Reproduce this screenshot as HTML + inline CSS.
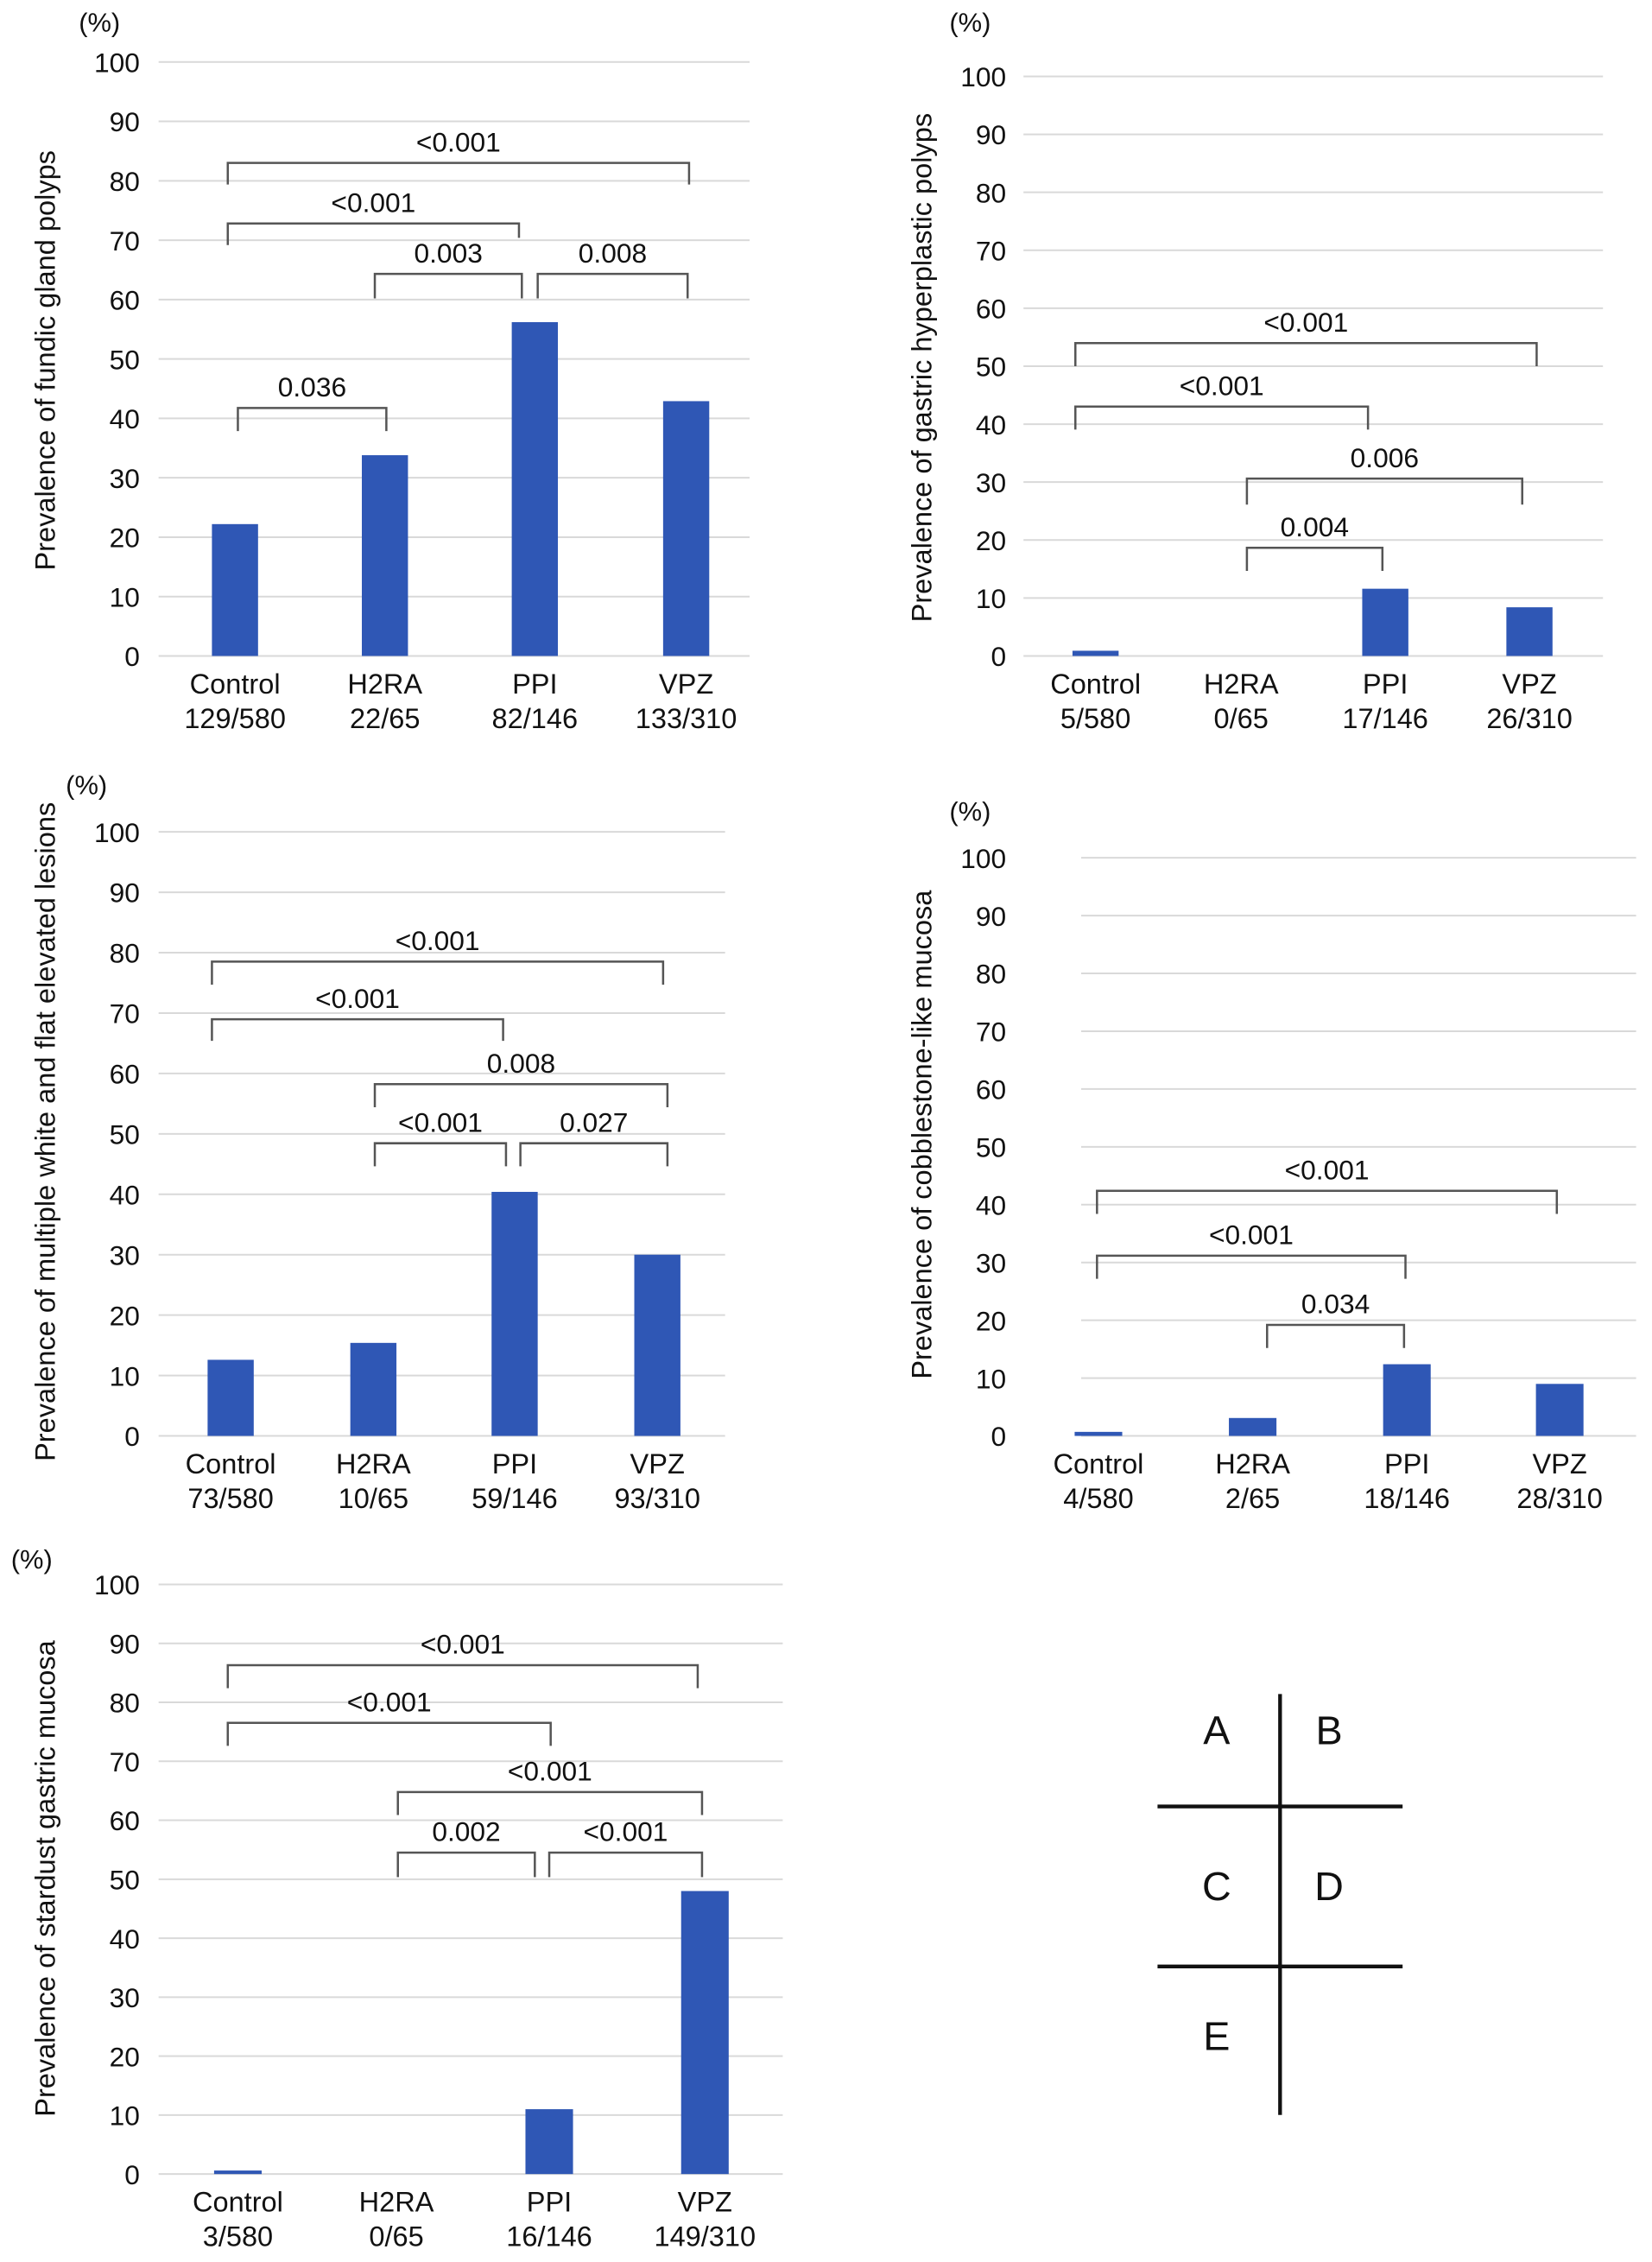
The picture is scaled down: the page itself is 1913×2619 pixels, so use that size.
<!DOCTYPE html>
<html><head><meta charset="utf-8">
<style>
html,body{margin:0;padding:0;background:#fff;}
svg{display:block;font-family:"Liberation Sans",Arial,sans-serif;}
</style></head>
<body>
<svg id="fig" width="1913" height="2619" viewBox="0 0 1146 1569" xmlns="http://www.w3.org/2000/svg">
<g id="legend-key" stroke="#111" stroke-width="2.6">
<line x1="888" y1="1175" x2="888" y2="1467"/>
<line x1="803" y1="1253" x2="973" y2="1253"/>
<line x1="803" y1="1364" x2="973" y2="1364"/>
</g>
<g font-size="28" fill="#111" text-anchor="middle">
<text x="844" y="1210">A</text>
<text x="922" y="1210">B</text>
<text x="844" y="1318">C</text>
<text x="922" y="1318">D</text>
<text x="844" y="1422">E</text>
</g>
</svg>
<script>
var categories = ["Control","H2RA","PPI","VPZ"];
var countsA = ["129/580","22/65","82/146","133/310"];
var countsB = ["5/580","0/65","17/146","26/310"];
var countsC = ["73/580","10/65","59/146","93/310"];
var countsD = ["4/580","2/65","18/146","28/310"];
var countsE = ["3/580","0/65","16/146","149/310"];
var valuesA = [22.2, 33.8, 56.2, 42.9];
var valuesB = [0.9, 0, 11.6, 8.4];
var valuesC = [12.6, 15.4, 40.4, 30.0];
var valuesD = [0.7, 3.1, 12.4, 9.0];
var valuesE = [0.6, 0, 11.0, 48.0];
var yTicks = [0,10,20,30,40,50,60,70,80,90,100];
var titleA = "Prevalence of fundic gland polyps";
var titleB = "Prevalence of gastric hyperplastic polyps";
var titleC = "Prevalence of multiple white and flat elevated lesions";
var titleD = "Prevalence of cobblestone-like mucosa";
var titleE = "Prevalence of stardust gastric mucosa";
// significance brackets: [left x, right x, top y, left drop y, right drop y, label]
var bracketsA = [[158,478,113,128,128,"<0.001"],[158,360,155,170,165,"<0.001"],[260,362,190,207,207,"0.003"],[373,477,190,207,207,"0.008"],[165,268,283,299,299,"0.036"]];
var bracketsB = [[746,1066,238,254,254,"<0.001"],[746,949,282,298,298,"<0.001"],[865,1056,332,350,350,"0.006"],[865,959,380,396,396,"0.004"]];
var bracketsC = [[147,460,667,683,683,"<0.001"],[147,349,707,722,722,"<0.001"],[260,463,752,768,768,"0.008"],[260,351,793,809,809,"<0.001"],[361,463,793,809,809,"0.027"]];
var bracketsD = [[761,1080,826,842,842,"<0.001"],[761,975,871,887,887,"<0.001"],[879,974,919,935,935,"0.034"]];
var bracketsE = [[158,484,1155,1171,1171,"<0.001"],[158,382,1195,1211,1211,"<0.001"],[276,487,1243,1259,1259,"<0.001"],[276,371,1285,1302,1302,"0.002"],[381,487,1285,1302,1302,"<0.001"]];

var NS="http://www.w3.org/2000/svg";
var svg=document.getElementById('fig');
function mk(tag,attrs,parent,text){var e=document.createElementNS(NS,tag);for(var k in attrs)e.setAttribute(k,attrs[k]);if(text!==undefined)e.textContent=text;(parent||svg).appendChild(e);return e;}

function panel(p){
  var g=mk('g',{});
  
  
  function yS(v){return p.zero-(p.zero-p.top)*v/100;}
  function xS(i){return p.centers[i];}
  yTicks.forEach(function(t){
    var l=mk('line',{x1:p.gx1,x2:p.gx2,y1:yS(t),y2:yS(t),stroke:'#d9d9d9','stroke-width':1.2},g);
    
    
    var tx=mk('text',{x:p.tickX,y:yS(t)+7,'text-anchor':'end','font-size':19,fill:'#111'},g,String(t));
    
    
  });
  var u=mk('text',{x:p.unitX,y:p.unitY,'text-anchor':'middle','font-size':18.5,fill:'#111'},g,'(%)');
  
  
  var yt=mk('text',{transform:'translate('+p.titleX+','+p.titleY+') rotate(-90)','text-anchor':'middle','font-size':19.5,fill:'#111'},g,p.title);
  
  
  p.values.forEach(function(v,i){
    var h=p.zero-yS(v);
    var r=mk('rect',{x:xS(i)-p.bw/2,y:yS(v),width:p.bw,height:h,fill:'#2f57b5'},g);
    
    
    var c=mk('text',{x:xS(i),y:p.zero+26,'text-anchor':'middle','font-size':19.5,fill:'#111'},g,categories[i]);
    
    
    var n=mk('text',{x:xS(i),y:p.zero+50,'text-anchor':'middle','font-size':19.5,fill:'#111'},g,p.counts[i]);
    
    
  });
  p.brackets.forEach(function(b,i){
    var pl=mk('polyline',{points:b[0]+','+b[3]+' '+b[0]+','+b[2]+' '+b[1]+','+b[2]+' '+b[1]+','+b[4],fill:'none',stroke:'#555','stroke-width':1.5},g);
    
    
    var t=mk('text',{x:(b[0]+b[1])/2,y:b[2]-8,'text-anchor':'middle','font-size':19,fill:'#111'},g,b[5]);
    
    
  });
}
panel({id:'a',zero:455,top:43,gx1:110,gx2:520,tickX:97,centers:[163,267,371,476],bw:32,values:valuesA,counts:countsA,title:titleA,titleX:38,titleY:250,unitX:69,unitY:22,brackets:bracketsA});
panel({id:'b',zero:455,top:53,gx1:710,gx2:1112,tickX:698,centers:[760,861,961,1061],bw:32,values:valuesB,counts:countsB,title:titleB,titleX:646,titleY:255,unitX:673,unitY:22,brackets:bracketsB});
panel({id:'c',zero:996,top:577,gx1:110,gx2:503,tickX:97,centers:[160,259,357,456],bw:32,values:valuesC,counts:countsC,title:titleC,titleX:38,titleY:785,unitX:60,unitY:551,brackets:bracketsC});
panel({id:'d',zero:996,top:595,gx1:750,gx2:1135,tickX:698,centers:[762,869,976,1082],bw:33,values:valuesD,counts:countsD,title:titleD,titleX:646,titleY:787,unitX:673,unitY:569,brackets:bracketsD});
panel({id:'e',zero:1508,top:1099,gx1:110,gx2:543,tickX:97,centers:[165,275,381,489],bw:33,values:valuesE,counts:countsE,title:titleE,titleX:38,titleY:1303,unitX:22,unitY:1088,brackets:bracketsE});
</script>
</body></html>
